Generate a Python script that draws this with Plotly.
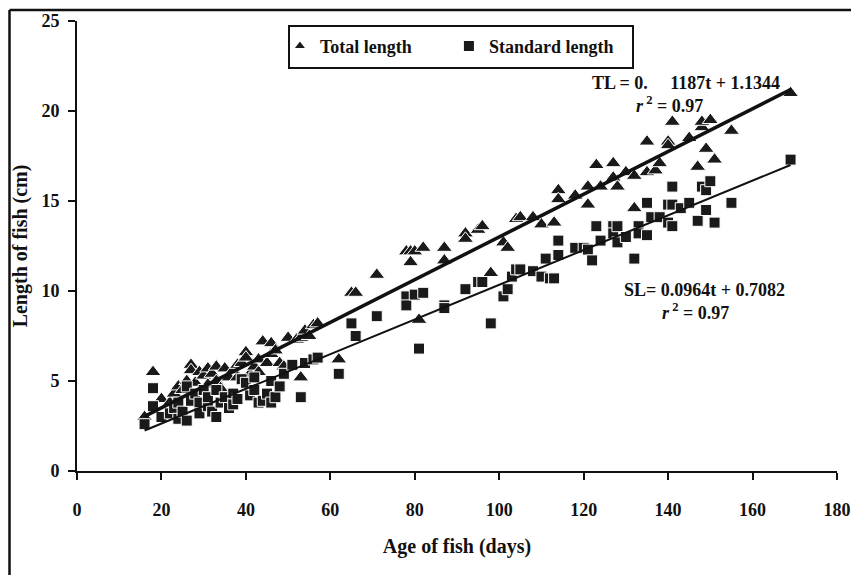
import numpy as np
import plotly.graph_objects as go

# Total length (cm) against age (days)
tl_age = [16, 18, 20, 22, 23, 24, 25, 26, 27, 27, 28, 29, 30, 31, 31, 32, 33, 33, 34, 35,
          36, 37, 38, 38, 39, 40, 40, 41, 42, 43, 43, 44, 45, 46, 46, 47, 48, 49, 50, 52,
          53, 53, 54, 55, 56, 57, 62, 65, 66, 71, 78, 79, 79, 80, 81, 82, 87, 87, 92, 92,
          95, 96, 98, 101, 102, 104, 105, 108, 110, 113, 114, 114, 118, 121, 121, 123, 124, 127, 127, 128,
          130, 132, 132, 135, 135, 137, 138, 140, 140, 141, 145, 147, 148, 148, 149, 150, 151, 155, 169]
tl_len = [3.0, 5.5, 4.0, 3.8, 4.3, 4.7, 4.5, 5.0, 5.9, 5.6, 4.9, 5.5, 5.3, 5.7, 4.8, 5.4, 5.8, 5.0, 4.6, 5.7,
          5.2, 5.6, 5.2, 5.9, 6.0, 6.6, 6.3, 5.4, 5.8, 5.5, 6.2, 7.2, 6.0, 7.1, 6.5, 6.7, 6.0, 5.8, 7.4, 7.3,
          7.4, 5.2, 7.8, 7.5, 8.1, 8.2, 6.2, 9.9, 9.9, 10.9, 12.2, 11.6, 12.2, 12.2, 8.4, 12.4, 12.4, 11.7, 13.2, 12.9,
          13.4, 13.6, 11.0, 12.7, 12.4, 14.0, 14.1, 14.1, 13.7, 13.8, 15.6, 15.1, 15.3, 15.8, 14.8, 17.0, 15.8, 17.1, 16.3, 15.8,
          16.6, 16.4, 14.6, 16.6, 18.3, 16.7, 17.1, 18.3, 18.1, 19.4, 18.5, 16.9, 19.1, 19.4, 17.9, 19.5, 17.3, 18.9, 21.0]

# Standard length (cm) against age (days)
sl_age = [16, 18, 18, 20, 22, 23, 24, 24, 25, 26, 26, 27, 28, 29, 29, 30, 31, 31, 32, 33,
          33, 34, 35, 36, 37, 37, 38, 39, 40, 41, 42, 42, 43, 44, 45, 46, 46, 47, 48, 49,
          51, 53, 54, 56, 57, 62, 65, 66, 71, 78, 78, 80, 81, 82, 87, 87, 92, 95, 96, 98,
          101, 102, 103, 104, 105, 108, 110, 111, 112, 113, 114, 114, 118, 120, 121, 122, 123, 124, 127, 127,
          128, 128, 130, 132, 133, 133, 135, 135, 136, 138, 140, 140, 141, 141, 141, 143, 145, 147, 148, 149,
          149, 150, 151, 155, 169]
sl_len = [2.6, 4.6, 3.6, 3.0, 3.2, 3.5, 3.8, 2.9, 3.3, 2.8, 4.7, 3.9, 4.3, 3.8, 3.2, 4.5, 3.6, 4.1, 3.3, 4.5,
          3.0, 3.8, 4.1, 3.5, 4.3, 3.7, 4.0, 5.1, 4.9, 4.2, 5.2, 4.5, 3.8, 3.9, 4.3, 3.8, 5.0, 4.1, 4.7, 5.4,
          5.9, 4.1, 6.0, 6.2, 6.3, 5.4, 8.2, 7.5, 8.6, 9.7, 9.2, 9.8, 6.8, 9.9, 9.2, 9.05, 10.1, 10.5, 10.5, 8.2,
          9.7, 10.1, 10.8, 11.2, 11.2, 11.1, 10.8, 11.8, 10.7, 10.7, 12.8, 12.0, 12.4, 12.4, 12.3, 11.7, 13.6, 12.8, 13.6, 13.2,
          13.6, 12.7, 13.0, 11.8, 13.6, 13.2, 14.9, 13.1, 14.1, 14.1, 14.8, 13.8, 15.8, 14.8, 13.6, 14.6, 14.9, 13.9, 15.8, 15.6,
          14.5, 16.1, 13.8, 14.9, 17.3]

# Fitted growth lines: length = slope * t + intercept
tl_slope, tl_intercept = 0.1187, 1.1344
sl_slope, sl_intercept = 0.0964, 0.7082
fit_span = [16, 169]

x_ticks = [0, 20, 40, 60, 80, 100, 120, 140, 160, 180]
y_ticks = [0, 5, 10, 15, 20, 25]

FONT = "Liberation Serif"
INK = "#111111"


def bold_font(size):
    return dict(family=FONT, size=size, color=INK, weight="bold")


fig = go.Figure()

fig.add_trace(go.Scatter(
    x=tl_age, y=tl_len, mode="markers", name="Total length",
    marker=dict(symbol="triangle-up", size=14, color="#1a1a1a",
                line=dict(color="white", width=1)),
))
fig.add_trace(go.Scatter(
    x=sl_age, y=sl_len, mode="markers", name="Standard length",
    marker=dict(symbol="square", size=11, color="#1a1a1a",
                line=dict(color="white", width=1)),
))

t = np.array(fit_span, dtype=float)
fig.add_trace(go.Scatter(
    x=t, y=tl_slope * t + tl_intercept, mode="lines", showlegend=False,
    line=dict(color=INK, width=3.5),
))
fig.add_trace(go.Scatter(
    x=t, y=sl_slope * t + sl_intercept, mode="lines", showlegend=False,
    line=dict(color=INK, width=2),
))

annotations = [
    dict(x=144.2, y=21.55, text="TL = 0.     1187t + 1.1344"),
    dict(x=140.4, y=20.35, text="<i>r</i><sup> 2</sup> = 0.97"),
    dict(x=148.7, y=10.06, text="SL= 0.0964t + 0.7082"),
    dict(x=146.5, y=8.85, text="<i>r</i><sup> 2</sup> = 0.97"),
]
for a in annotations:
    a.update(xref="x", yref="y", showarrow=False, font=bold_font(18),
             xanchor="center", yanchor="middle")

fig.update_layout(
    width=851, height=575,
    margin=dict(l=77, r=14, t=21, b=104),
    paper_bgcolor="white", plot_bgcolor="white",
    font=bold_font(18),
    showlegend=True,
    legend=dict(orientation="h", x=0.267, y=0.985, xanchor="left", yanchor="top",
                bgcolor="rgba(0,0,0,0)", borderwidth=0,
                font=bold_font(18),
                entrywidth=124, itemsizing="constant"),
    annotations=annotations,
    shapes=[
        # legend box
        dict(type="rect", xref="paper", yref="paper",
             x0=(289 - 77) / 760, x1=(633 - 77) / 760,
             y0=(471 - 68) / 450, y1=(471 - 26) / 450,
             line=dict(color=INK, width=2), fillcolor="rgba(0,0,0,0)"),
        # outer frame: left and top edges (right and bottom run off the page)
        dict(type="line", xref="paper", yref="paper",
             x0=(9.5 - 77) / 760, x1=(9.5 - 77) / 760,
             y0=(471 - 600) / 450, y1=(471 - 10) / 450,
             line=dict(color=INK, width=2.5)),
        dict(type="line", xref="paper", yref="paper",
             x0=(9.5 - 77) / 760, x1=(900 - 77) / 760,
             y0=(471 - 10) / 450, y1=(471 - 10) / 450,
             line=dict(color=INK, width=2.5)),
    ],
)

fig.update_xaxes(
    range=[0, 180], tickvals=x_ticks, automargin=False,
    showgrid=False, zeroline=False, showline=True, linecolor=INK, linewidth=2,
    ticks="outside", ticklen=7, tickwidth=2, tickcolor=INK,
    ticklabelstandoff=14, tickfont=bold_font(18),
    title=dict(text="Age of fish (days)", standoff=20, font=bold_font(20)),
)
fig.update_yaxes(
    range=[0, 25], tickvals=y_ticks, automargin=False,
    showgrid=False, zeroline=False, showline=True, linecolor=INK, linewidth=2,
    ticks="outside", ticklen=7, tickwidth=2, tickcolor=INK,
    ticklabelstandoff=5, tickfont=bold_font(18),
    title=dict(text="Length of fish (cm)", standoff=8, font=bold_font(20)),
)

fig.write_html("out.html")
